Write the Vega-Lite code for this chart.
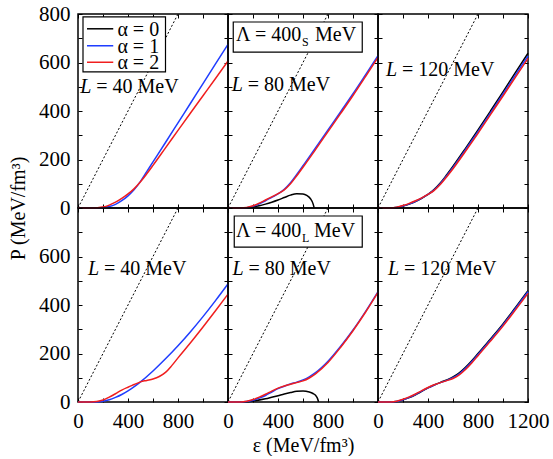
{
"$schema": "https://vega.github.io/schema/vega-lite/v6.json",
"padding": {"left": 7, "top": 2, "right": 0, "bottom": 0},
"background": "white",
"config": {
  "font": "Liberation Serif",
  "view": {"stroke": "black", "strokeWidth": 1.5},
  "axis": {"labelFont": "Liberation Serif", "labelFontSize": 21, "labelColor": "black", "titleFont": "Liberation Serif", "titleFontSize": 20, "titleFontWeight": "normal", "titleColor": "black", "tickColor": "black", "tickSize": -4, "tickWidth": 1, "domain": false, "grid": false, "labelPadding": 12, "labelOverlap": false, "labelFlush": false, "title": null, "format": "d"},
  "text": {"font": "Liberation Serif", "fontSize": 20, "color": "black", "align": "left", "baseline": "alphabetic"}
},
"datasets": {
  "causal": [{"e": 0, "p": 0}, {"e": 800, "p": 800}],
  "curves": [
{"panel":"a","alpha":"α = 1","e":0,"p":0},{"panel":"a","alpha":"α = 1","e":100,"p":0},{"panel":"a","alpha":"α = 1","e":150,"p":0.5},{"panel":"a","alpha":"α = 1","e":200,"p":2},{"panel":"a","alpha":"α = 1","e":250,"p":6},{"panel":"a","alpha":"α = 1","e":300,"p":15},{"panel":"a","alpha":"α = 1","e":350,"p":30},{"panel":"a","alpha":"α = 1","e":400,"p":50},{"panel":"a","alpha":"α = 1","e":450,"p":76},{"panel":"a","alpha":"α = 1","e":500,"p":110},{"panel":"a","alpha":"α = 1","e":550,"p":150},{"panel":"a","alpha":"α = 1","e":600,"p":190},{"panel":"a","alpha":"α = 1","e":700,"p":270},{"panel":"a","alpha":"α = 1","e":800,"p":351},{"panel":"a","alpha":"α = 1","e":900,"p":432},{"panel":"a","alpha":"α = 1","e":1000,"p":513},{"panel":"a","alpha":"α = 1","e":1100,"p":594},{"panel":"a","alpha":"α = 1","e":1200,"p":675},
{"panel":"a","alpha":"α = 2","e":0,"p":0},{"panel":"a","alpha":"α = 2","e":100,"p":0},{"panel":"a","alpha":"α = 2","e":150,"p":1},{"panel":"a","alpha":"α = 2","e":200,"p":4},{"panel":"a","alpha":"α = 2","e":250,"p":12},{"panel":"a","alpha":"α = 2","e":300,"p":24},{"panel":"a","alpha":"α = 2","e":350,"p":40},{"panel":"a","alpha":"α = 2","e":400,"p":58},{"panel":"a","alpha":"α = 2","e":450,"p":80},{"panel":"a","alpha":"α = 2","e":500,"p":108},{"panel":"a","alpha":"α = 2","e":550,"p":141},{"panel":"a","alpha":"α = 2","e":600,"p":176},{"panel":"a","alpha":"α = 2","e":700,"p":248},{"panel":"a","alpha":"α = 2","e":800,"p":320},{"panel":"a","alpha":"α = 2","e":900,"p":392},{"panel":"a","alpha":"α = 2","e":1000,"p":463},{"panel":"a","alpha":"α = 2","e":1100,"p":534},{"panel":"a","alpha":"α = 2","e":1200,"p":606},
{"panel":"b","alpha":"α = 0","e":0,"p":0},{"panel":"b","alpha":"α = 0","e":100,"p":0},{"panel":"b","alpha":"α = 0","e":150,"p":1},{"panel":"b","alpha":"α = 0","e":200,"p":4},{"panel":"b","alpha":"α = 0","e":250,"p":9},{"panel":"b","alpha":"α = 0","e":300,"p":16},{"panel":"b","alpha":"α = 0","e":350,"p":24},{"panel":"b","alpha":"α = 0","e":400,"p":33},{"panel":"b","alpha":"α = 0","e":450,"p":43},{"panel":"b","alpha":"α = 0","e":500,"p":53},{"panel":"b","alpha":"α = 0","e":550,"p":59},{"panel":"b","alpha":"α = 0","e":600,"p":58},{"panel":"b","alpha":"α = 0","e":630,"p":52},{"panel":"b","alpha":"α = 0","e":660,"p":38},{"panel":"b","alpha":"α = 0","e":680,"p":18},{"panel":"b","alpha":"α = 0","e":690,"p":0},
{"panel":"b","alpha":"α = 1","e":0,"p":0},{"panel":"b","alpha":"α = 1","e":100,"p":0},{"panel":"b","alpha":"α = 1","e":150,"p":1},{"panel":"b","alpha":"α = 1","e":200,"p":7},{"panel":"b","alpha":"α = 1","e":250,"p":17},{"panel":"b","alpha":"α = 1","e":300,"p":30},{"panel":"b","alpha":"α = 1","e":350,"p":44},{"panel":"b","alpha":"α = 1","e":400,"p":58},{"panel":"b","alpha":"α = 1","e":450,"p":77},{"panel":"b","alpha":"α = 1","e":500,"p":104},{"panel":"b","alpha":"α = 1","e":550,"p":138},{"panel":"b","alpha":"α = 1","e":600,"p":174},{"panel":"b","alpha":"α = 1","e":700,"p":248},{"panel":"b","alpha":"α = 1","e":800,"p":322},{"panel":"b","alpha":"α = 1","e":900,"p":396},{"panel":"b","alpha":"α = 1","e":1000,"p":471},{"panel":"b","alpha":"α = 1","e":1100,"p":549},{"panel":"b","alpha":"α = 1","e":1200,"p":628},
{"panel":"b","alpha":"α = 2","e":0,"p":0},{"panel":"b","alpha":"α = 2","e":100,"p":0},{"panel":"b","alpha":"α = 2","e":150,"p":2},{"panel":"b","alpha":"α = 2","e":200,"p":9},{"panel":"b","alpha":"α = 2","e":250,"p":20},{"panel":"b","alpha":"α = 2","e":300,"p":33},{"panel":"b","alpha":"α = 2","e":350,"p":46},{"panel":"b","alpha":"α = 2","e":400,"p":59},{"panel":"b","alpha":"α = 2","e":450,"p":75},{"panel":"b","alpha":"α = 2","e":500,"p":100},{"panel":"b","alpha":"α = 2","e":550,"p":133},{"panel":"b","alpha":"α = 2","e":600,"p":168},{"panel":"b","alpha":"α = 2","e":700,"p":241},{"panel":"b","alpha":"α = 2","e":800,"p":315},{"panel":"b","alpha":"α = 2","e":900,"p":389},{"panel":"b","alpha":"α = 2","e":1000,"p":464},{"panel":"b","alpha":"α = 2","e":1100,"p":542},{"panel":"b","alpha":"α = 2","e":1200,"p":621},
{"panel":"c","alpha":"α = 0","e":0,"p":0},{"panel":"c","alpha":"α = 0","e":100,"p":0},{"panel":"c","alpha":"α = 0","e":150,"p":2},{"panel":"c","alpha":"α = 0","e":200,"p":8},{"panel":"c","alpha":"α = 0","e":250,"p":16},{"panel":"c","alpha":"α = 0","e":300,"p":27},{"panel":"c","alpha":"α = 0","e":350,"p":40},{"panel":"c","alpha":"α = 0","e":400,"p":56},{"panel":"c","alpha":"α = 0","e":450,"p":77},{"panel":"c","alpha":"α = 0","e":500,"p":104},{"panel":"c","alpha":"α = 0","e":550,"p":137},{"panel":"c","alpha":"α = 0","e":600,"p":172},{"panel":"c","alpha":"α = 0","e":700,"p":246},{"panel":"c","alpha":"α = 0","e":800,"p":322},{"panel":"c","alpha":"α = 0","e":900,"p":400},{"panel":"c","alpha":"α = 0","e":1000,"p":479},{"panel":"c","alpha":"α = 0","e":1100,"p":559},{"panel":"c","alpha":"α = 0","e":1200,"p":638},
{"panel":"c","alpha":"α = 1","e":0,"p":0},{"panel":"c","alpha":"α = 1","e":100,"p":0},{"panel":"c","alpha":"α = 1","e":150,"p":2},{"panel":"c","alpha":"α = 1","e":200,"p":8},{"panel":"c","alpha":"α = 1","e":250,"p":17},{"panel":"c","alpha":"α = 1","e":300,"p":28},{"panel":"c","alpha":"α = 1","e":350,"p":41},{"panel":"c","alpha":"α = 1","e":400,"p":56},{"panel":"c","alpha":"α = 1","e":450,"p":75},{"panel":"c","alpha":"α = 1","e":500,"p":101},{"panel":"c","alpha":"α = 1","e":550,"p":133},{"panel":"c","alpha":"α = 1","e":600,"p":167},{"panel":"c","alpha":"α = 1","e":700,"p":240},{"panel":"c","alpha":"α = 1","e":800,"p":315},{"panel":"c","alpha":"α = 1","e":900,"p":392},{"panel":"c","alpha":"α = 1","e":1000,"p":470},{"panel":"c","alpha":"α = 1","e":1100,"p":549},{"panel":"c","alpha":"α = 1","e":1200,"p":627},
{"panel":"c","alpha":"α = 2","e":0,"p":0},{"panel":"c","alpha":"α = 2","e":100,"p":0},{"panel":"c","alpha":"α = 2","e":150,"p":3},{"panel":"c","alpha":"α = 2","e":200,"p":10},{"panel":"c","alpha":"α = 2","e":250,"p":19},{"panel":"c","alpha":"α = 2","e":300,"p":30},{"panel":"c","alpha":"α = 2","e":350,"p":42},{"panel":"c","alpha":"α = 2","e":400,"p":56},{"panel":"c","alpha":"α = 2","e":450,"p":73},{"panel":"c","alpha":"α = 2","e":500,"p":98},{"panel":"c","alpha":"α = 2","e":550,"p":129},{"panel":"c","alpha":"α = 2","e":600,"p":162},{"panel":"c","alpha":"α = 2","e":700,"p":234},{"panel":"c","alpha":"α = 2","e":800,"p":308},{"panel":"c","alpha":"α = 2","e":900,"p":385},{"panel":"c","alpha":"α = 2","e":1000,"p":462},{"panel":"c","alpha":"α = 2","e":1100,"p":540},{"panel":"c","alpha":"α = 2","e":1200,"p":617},
{"panel":"d","alpha":"α = 1","e":0,"p":0},{"panel":"d","alpha":"α = 1","e":100,"p":0},{"panel":"d","alpha":"α = 1","e":150,"p":0.5},{"panel":"d","alpha":"α = 1","e":200,"p":3},{"panel":"d","alpha":"α = 1","e":250,"p":9},{"panel":"d","alpha":"α = 1","e":300,"p":19},{"panel":"d","alpha":"α = 1","e":350,"p":31},{"panel":"d","alpha":"α = 1","e":400,"p":46},{"panel":"d","alpha":"α = 1","e":450,"p":63},{"panel":"d","alpha":"α = 1","e":500,"p":83},{"panel":"d","alpha":"α = 1","e":600,"p":128},{"panel":"d","alpha":"α = 1","e":700,"p":178},{"panel":"d","alpha":"α = 1","e":800,"p":232},{"panel":"d","alpha":"α = 1","e":900,"p":290},{"panel":"d","alpha":"α = 1","e":1000,"p":352},{"panel":"d","alpha":"α = 1","e":1100,"p":418},{"panel":"d","alpha":"α = 1","e":1200,"p":487},
{"panel":"d","alpha":"α = 2","e":0,"p":0},{"panel":"d","alpha":"α = 2","e":100,"p":0},{"panel":"d","alpha":"α = 2","e":150,"p":2},{"panel":"d","alpha":"α = 2","e":200,"p":8},{"panel":"d","alpha":"α = 2","e":250,"p":20},{"panel":"d","alpha":"α = 2","e":300,"p":34},{"panel":"d","alpha":"α = 2","e":350,"p":49},{"panel":"d","alpha":"α = 2","e":400,"p":61},{"panel":"d","alpha":"α = 2","e":450,"p":72},{"panel":"d","alpha":"α = 2","e":500,"p":83},{"panel":"d","alpha":"α = 2","e":550,"p":89},{"panel":"d","alpha":"α = 2","e":600,"p":95},{"panel":"d","alpha":"α = 2","e":650,"p":105},{"panel":"d","alpha":"α = 2","e":700,"p":122},{"panel":"d","alpha":"α = 2","e":750,"p":150},{"panel":"d","alpha":"α = 2","e":800,"p":182},{"panel":"d","alpha":"α = 2","e":900,"p":244},{"panel":"d","alpha":"α = 2","e":1000,"p":309},{"panel":"d","alpha":"α = 2","e":1100,"p":376},{"panel":"d","alpha":"α = 2","e":1200,"p":445},
{"panel":"e","alpha":"α = 0","e":0,"p":0},{"panel":"e","alpha":"α = 0","e":100,"p":0},{"panel":"e","alpha":"α = 0","e":150,"p":1},{"panel":"e","alpha":"α = 0","e":200,"p":4},{"panel":"e","alpha":"α = 0","e":300,"p":13},{"panel":"e","alpha":"α = 0","e":400,"p":26},{"panel":"e","alpha":"α = 0","e":450,"p":33},{"panel":"e","alpha":"α = 0","e":500,"p":39},{"panel":"e","alpha":"α = 0","e":550,"p":44},{"panel":"e","alpha":"α = 0","e":600,"p":45},{"panel":"e","alpha":"α = 0","e":650,"p":41},{"panel":"e","alpha":"α = 0","e":680,"p":35},{"panel":"e","alpha":"α = 0","e":700,"p":28},{"panel":"e","alpha":"α = 0","e":715,"p":16},{"panel":"e","alpha":"α = 0","e":725,"p":0},
{"panel":"e","alpha":"α = 1","e":0,"p":0},{"panel":"e","alpha":"α = 1","e":100,"p":0},{"panel":"e","alpha":"α = 1","e":150,"p":2},{"panel":"e","alpha":"α = 1","e":200,"p":7},{"panel":"e","alpha":"α = 1","e":250,"p":16},{"panel":"e","alpha":"α = 1","e":300,"p":27},{"panel":"e","alpha":"α = 1","e":350,"p":41},{"panel":"e","alpha":"α = 1","e":400,"p":55},{"panel":"e","alpha":"α = 1","e":450,"p":65},{"panel":"e","alpha":"α = 1","e":500,"p":74},{"panel":"e","alpha":"α = 1","e":550,"p":82},{"panel":"e","alpha":"α = 1","e":600,"p":91},{"panel":"e","alpha":"α = 1","e":650,"p":104},{"panel":"e","alpha":"α = 1","e":700,"p":121},{"panel":"e","alpha":"α = 1","e":800,"p":168},{"panel":"e","alpha":"α = 1","e":900,"p":229},{"panel":"e","alpha":"α = 1","e":1000,"p":297},{"panel":"e","alpha":"α = 1","e":1100,"p":373},{"panel":"e","alpha":"α = 1","e":1200,"p":455},
{"panel":"e","alpha":"α = 2","e":0,"p":0},{"panel":"e","alpha":"α = 2","e":100,"p":0},{"panel":"e","alpha":"α = 2","e":150,"p":3},{"panel":"e","alpha":"α = 2","e":200,"p":10},{"panel":"e","alpha":"α = 2","e":250,"p":20},{"panel":"e","alpha":"α = 2","e":300,"p":32},{"panel":"e","alpha":"α = 2","e":350,"p":45},{"panel":"e","alpha":"α = 2","e":400,"p":57},{"panel":"e","alpha":"α = 2","e":450,"p":66},{"panel":"e","alpha":"α = 2","e":500,"p":73},{"panel":"e","alpha":"α = 2","e":550,"p":80},{"panel":"e","alpha":"α = 2","e":600,"p":87},{"panel":"e","alpha":"α = 2","e":650,"p":99},{"panel":"e","alpha":"α = 2","e":700,"p":116},{"panel":"e","alpha":"α = 2","e":800,"p":163},{"panel":"e","alpha":"α = 2","e":900,"p":225},{"panel":"e","alpha":"α = 2","e":1000,"p":294},{"panel":"e","alpha":"α = 2","e":1100,"p":370},{"panel":"e","alpha":"α = 2","e":1200,"p":452},
{"panel":"f","alpha":"α = 0","e":0,"p":0},{"panel":"f","alpha":"α = 0","e":100,"p":0},{"panel":"f","alpha":"α = 0","e":150,"p":2},{"panel":"f","alpha":"α = 0","e":200,"p":9},{"panel":"f","alpha":"α = 0","e":250,"p":18},{"panel":"f","alpha":"α = 0","e":300,"p":30},{"panel":"f","alpha":"α = 0","e":350,"p":44},{"panel":"f","alpha":"α = 0","e":400,"p":58},{"panel":"f","alpha":"α = 0","e":450,"p":70},{"panel":"f","alpha":"α = 0","e":500,"p":81},{"panel":"f","alpha":"α = 0","e":550,"p":91},{"panel":"f","alpha":"α = 0","e":600,"p":103},{"panel":"f","alpha":"α = 0","e":650,"p":120},{"panel":"f","alpha":"α = 0","e":700,"p":143},{"panel":"f","alpha":"α = 0","e":750,"p":170},{"panel":"f","alpha":"α = 0","e":800,"p":200},{"panel":"f","alpha":"α = 0","e":900,"p":260},{"panel":"f","alpha":"α = 0","e":1000,"p":322},{"panel":"f","alpha":"α = 0","e":1100,"p":390},{"panel":"f","alpha":"α = 0","e":1200,"p":459},
{"panel":"f","alpha":"α = 1","e":0,"p":0},{"panel":"f","alpha":"α = 1","e":100,"p":0},{"panel":"f","alpha":"α = 1","e":150,"p":2},{"panel":"f","alpha":"α = 1","e":200,"p":9},{"panel":"f","alpha":"α = 1","e":250,"p":19},{"panel":"f","alpha":"α = 1","e":300,"p":31},{"panel":"f","alpha":"α = 1","e":350,"p":45},{"panel":"f","alpha":"α = 1","e":400,"p":58},{"panel":"f","alpha":"α = 1","e":450,"p":70},{"panel":"f","alpha":"α = 1","e":500,"p":80},{"panel":"f","alpha":"α = 1","e":550,"p":89},{"panel":"f","alpha":"α = 1","e":600,"p":100},{"panel":"f","alpha":"α = 1","e":650,"p":116},{"panel":"f","alpha":"α = 1","e":700,"p":139},{"panel":"f","alpha":"α = 1","e":750,"p":166},{"panel":"f","alpha":"α = 1","e":800,"p":196},{"panel":"f","alpha":"α = 1","e":900,"p":256},{"panel":"f","alpha":"α = 1","e":1000,"p":318},{"panel":"f","alpha":"α = 1","e":1100,"p":386},{"panel":"f","alpha":"α = 1","e":1200,"p":455},
{"panel":"f","alpha":"α = 2","e":0,"p":0},{"panel":"f","alpha":"α = 2","e":100,"p":0},{"panel":"f","alpha":"α = 2","e":150,"p":3},{"panel":"f","alpha":"α = 2","e":200,"p":11},{"panel":"f","alpha":"α = 2","e":250,"p":21},{"panel":"f","alpha":"α = 2","e":300,"p":33},{"panel":"f","alpha":"α = 2","e":350,"p":47},{"panel":"f","alpha":"α = 2","e":400,"p":60},{"panel":"f","alpha":"α = 2","e":450,"p":71},{"panel":"f","alpha":"α = 2","e":500,"p":80},{"panel":"f","alpha":"α = 2","e":550,"p":88},{"panel":"f","alpha":"α = 2","e":600,"p":97},{"panel":"f","alpha":"α = 2","e":650,"p":112},{"panel":"f","alpha":"α = 2","e":700,"p":134},{"panel":"f","alpha":"α = 2","e":750,"p":161},{"panel":"f","alpha":"α = 2","e":800,"p":191},{"panel":"f","alpha":"α = 2","e":900,"p":251},{"panel":"f","alpha":"α = 2","e":1000,"p":313},{"panel":"f","alpha":"α = 2","e":1100,"p":380},{"panel":"f","alpha":"α = 2","e":1200,"p":448}
  ]
},
"columns": 3,
"spacing": 0,
"bounds": "flush",
"concat": [
  {"width": 150, "height": 194, "resolve": {"axis": {"x": "independent", "y": "independent"}},
   "layer": [
    {"data": {"name": "causal"}, "mark": {"type": "line", "color": "black", "strokeWidth": 1, "strokeDash": [2, 2]},
     "encoding": {"x": {"field": "e", "type": "quantitative", "scale": {"domain": [0, 1200], "nice": false}, "axis": {"orient": "bottom", "values": [0,200,400,600,800,1000,1200], "labels": false}},
                  "y": {"field": "p", "type": "quantitative", "scale": {"domain": [0, 800], "nice": false}, "axis": {"orient": "left", "values": [0,100,200,300,400,500,600,700,800], "labelExpr": "datum.value % 200 === 0 ? datum.label : ''", "title": "P (MeV/fm³)", "titleY": 194, "titleX": -50, "titleAlign": "center", "titleAngle": 270, "titleBaseline": "bottom"}}}},
    {"data": {"name": "curves"}, "transform": [{"filter": "datum.panel === 'a'"}], "mark": {"type": "line", "strokeWidth": 1.5, "interpolate": "monotone"},
     "encoding": {"x": {"field": "e", "type": "quantitative", "axis": {"orient": "top", "values": [0,200,400,600,800,1000,1200], "labels": false}},
                  "y": {"field": "p", "type": "quantitative", "axis": {"orient": "right", "values": [0,100,200,300,400,500,600,700,800], "labels": false}},
                  "color": {"field": "alpha", "type": "nominal", "scale": {"domain": ["α = 0", "α = 1", "α = 2"], "range": ["#000000", "#1f3dff", "#f01e1e"]}, "legend": null}}},
    {"data": {"values": [{}]}, "mark": {"type": "rect", "fill": "white", "stroke": "black", "strokeWidth": 1.2},
     "encoding": {"x": {"datum": 40, "type": "quantitative", "axis": null}, "x2": {"datum": 700}, "y": {"datum": 788, "type": "quantitative", "axis": null}, "y2": {"datum": 561}}},
    {"data": {"values": [{"alpha": "α = 0"}]}, "mark": {"type": "rule", "strokeWidth": 1.5},
     "encoding": {"x": {"datum": 72, "type": "quantitative", "axis": null}, "x2": {"datum": 282}, "y": {"datum": 739, "type": "quantitative", "axis": null}, "color": {"field": "alpha", "type": "nominal", "legend": null}}},
    {"data": {"values": [{"alpha": "α = 1"}]}, "mark": {"type": "rule", "strokeWidth": 1.5},
     "encoding": {"x": {"datum": 72, "type": "quantitative", "axis": null}, "x2": {"datum": 282}, "y": {"datum": 669, "type": "quantitative", "axis": null}, "color": {"field": "alpha", "type": "nominal", "legend": null}}},
    {"data": {"values": [{"alpha": "α = 2"}]}, "mark": {"type": "rule", "strokeWidth": 1.5},
     "encoding": {"x": {"datum": 72, "type": "quantitative", "axis": null}, "x2": {"datum": 282}, "y": {"datum": 601, "type": "quantitative", "axis": null}, "color": {"field": "alpha", "type": "nominal", "legend": null}}},
    {"data": {"values": [{"alpha": "α = 0"}]}, "mark": {"type": "text", "baseline": "middle", "dy": 1},
     "encoding": {"x": {"datum": 315, "type": "quantitative", "axis": null}, "y": {"datum": 739, "type": "quantitative", "axis": null}, "text": {"field": "alpha"}}},
    {"data": {"values": [{"alpha": "α = 1"}]}, "mark": {"type": "text", "baseline": "middle", "dy": 1},
     "encoding": {"x": {"datum": 315, "type": "quantitative", "axis": null}, "y": {"datum": 669, "type": "quantitative", "axis": null}, "text": {"field": "alpha"}}},
    {"data": {"values": [{"alpha": "α = 2"}]}, "mark": {"type": "text", "baseline": "middle", "dy": 1},
     "encoding": {"x": {"datum": 315, "type": "quantitative", "axis": null}, "y": {"datum": 601, "type": "quantitative", "axis": null}, "text": {"field": "alpha"}}},
    {"data": {"values": [{"t": "L"}]}, "mark": {"type": "text", "fontStyle": "italic"},
     "encoding": {"x": {"datum": 18, "type": "quantitative", "axis": null}, "y": {"datum": 476, "type": "quantitative", "axis": null}, "text": {"field": "t"}}},
    {"data": {"values": [{"t": "= 40 MeV"}]}, "mark": {"type": "text", "dx": 16},
     "encoding": {"x": {"datum": 18, "type": "quantitative", "axis": null}, "y": {"datum": 476, "type": "quantitative", "axis": null}, "text": {"field": "t"}}}
   ]},
  {"width": 150, "height": 194, "resolve": {"axis": {"x": "independent", "y": "independent"}},
   "layer": [
    {"data": {"name": "causal"}, "mark": {"type": "line", "color": "black", "strokeWidth": 1, "strokeDash": [2, 2]},
     "encoding": {"x": {"field": "e", "type": "quantitative", "scale": {"domain": [0, 1200], "nice": false}, "axis": {"orient": "bottom", "values": [0,200,400,600,800,1000,1200], "labels": false}},
                  "y": {"field": "p", "type": "quantitative", "scale": {"domain": [0, 800], "nice": false}, "axis": {"orient": "left", "values": [0,100,200,300,400,500,600,700,800], "labels": false}}}},
    {"data": {"name": "curves"}, "transform": [{"filter": "datum.panel === 'b'"}], "mark": {"type": "line", "strokeWidth": 1.5, "interpolate": "monotone"},
     "encoding": {"x": {"field": "e", "type": "quantitative", "axis": {"orient": "top", "values": [0,200,400,600,800,1000,1200], "labels": false}},
                  "y": {"field": "p", "type": "quantitative", "axis": {"orient": "right", "values": [0,100,200,300,400,500,600,700,800], "labels": false}},
                  "color": {"field": "alpha", "type": "nominal", "legend": null}}},
    {"data": {"values": [{}]}, "mark": {"type": "rect", "fill": "white", "stroke": "black", "strokeWidth": 1.2},
     "encoding": {"x": {"datum": 42, "type": "quantitative", "axis": null}, "x2": {"datum": 1074}, "y": {"datum": 767, "type": "quantitative", "axis": null}, "y2": {"datum": 643}}},
    {"data": {"values": [{"t": "Λ = 400"}]}, "mark": {"type": "text"},
     "encoding": {"x": {"datum": 64, "type": "quantitative", "axis": null}, "y": {"datum": 689, "type": "quantitative", "axis": null}, "text": {"field": "t"}}},
    {"data": {"values": [{"t": "S"}]}, "mark": {"type": "text", "fontSize": 12, "dx": 66},
     "encoding": {"x": {"datum": 64, "type": "quantitative", "axis": null}, "y": {"datum": 668, "type": "quantitative", "axis": null}, "text": {"field": "t"}}},
    {"data": {"values": [{"t": "MeV"}]}, "mark": {"type": "text", "dx": 79},
     "encoding": {"x": {"datum": 64, "type": "quantitative", "axis": null}, "y": {"datum": 689, "type": "quantitative", "axis": null}, "text": {"field": "t"}}},
    {"data": {"values": [{"t": "L"}]}, "mark": {"type": "text", "fontStyle": "italic"},
     "encoding": {"x": {"datum": 30, "type": "quantitative", "axis": null}, "y": {"datum": 482, "type": "quantitative", "axis": null}, "text": {"field": "t"}}},
    {"data": {"values": [{"t": "= 80 MeV"}]}, "mark": {"type": "text", "dx": 16},
     "encoding": {"x": {"datum": 30, "type": "quantitative", "axis": null}, "y": {"datum": 482, "type": "quantitative", "axis": null}, "text": {"field": "t"}}}
   ]},
  {"width": 150, "height": 194, "resolve": {"axis": {"x": "independent", "y": "independent"}},
   "layer": [
    {"data": {"name": "causal"}, "mark": {"type": "line", "color": "black", "strokeWidth": 1, "strokeDash": [2, 2]},
     "encoding": {"x": {"field": "e", "type": "quantitative", "scale": {"domain": [0, 1200], "nice": false}, "axis": {"orient": "bottom", "values": [0,200,400,600,800,1000,1200], "labels": false}},
                  "y": {"field": "p", "type": "quantitative", "scale": {"domain": [0, 800], "nice": false}, "axis": {"orient": "left", "values": [0,100,200,300,400,500,600,700,800], "labels": false}}}},
    {"data": {"name": "curves"}, "transform": [{"filter": "datum.panel === 'c'"}], "mark": {"type": "line", "strokeWidth": 1.5, "interpolate": "monotone"},
     "encoding": {"x": {"field": "e", "type": "quantitative", "axis": {"orient": "top", "values": [0,200,400,600,800,1000,1200], "labels": false}},
                  "y": {"field": "p", "type": "quantitative", "axis": {"orient": "right", "values": [0,100,200,300,400,500,600,700,800], "labels": false}},
                  "color": {"field": "alpha", "type": "nominal", "legend": null}}},
    {"data": {"values": [{"t": "L"}]}, "mark": {"type": "text", "fontStyle": "italic"},
     "encoding": {"x": {"datum": 64, "type": "quantitative", "axis": null}, "y": {"datum": 546, "type": "quantitative", "axis": null}, "text": {"field": "t"}}},
    {"data": {"values": [{"t": "= 120 MeV"}]}, "mark": {"type": "text", "dx": 16},
     "encoding": {"x": {"datum": 64, "type": "quantitative", "axis": null}, "y": {"datum": 546, "type": "quantitative", "axis": null}, "text": {"field": "t"}}}
   ]},
  {"width": 150, "height": 194, "resolve": {"axis": {"x": "independent", "y": "independent"}},
   "layer": [
    {"data": {"name": "causal"}, "mark": {"type": "line", "color": "black", "strokeWidth": 1, "strokeDash": [2, 2]},
     "encoding": {"x": {"field": "e", "type": "quantitative", "scale": {"domain": [0, 1200], "nice": false}, "axis": {"orient": "bottom", "values": [0,200,400,600,800,1000,1200], "labelExpr": "datum.value % 400 === 0 && datum.value < 1200 ? datum.label : ''"}},
                  "y": {"field": "p", "type": "quantitative", "scale": {"domain": [0, 800], "nice": false}, "axis": {"orient": "left", "values": [0,100,200,300,400,500,600,700,800], "labelExpr": "datum.value % 200 === 0 && datum.value < 800 ? datum.label : ''"}}}},
    {"data": {"name": "curves"}, "transform": [{"filter": "datum.panel === 'd'"}], "mark": {"type": "line", "strokeWidth": 1.5, "interpolate": "monotone"},
     "encoding": {"x": {"field": "e", "type": "quantitative", "axis": {"orient": "top", "values": [0,200,400,600,800,1000,1200], "labels": false}},
                  "y": {"field": "p", "type": "quantitative", "axis": {"orient": "right", "values": [0,100,200,300,400,500,600,700,800], "labels": false}},
                  "color": {"field": "alpha", "type": "nominal", "legend": null}}},
    {"data": {"values": [{"t": "L"}]}, "mark": {"type": "text", "fontStyle": "italic"},
     "encoding": {"x": {"datum": 80, "type": "quantitative", "axis": null}, "y": {"datum": 522, "type": "quantitative", "axis": null}, "text": {"field": "t"}}},
    {"data": {"values": [{"t": "= 40 MeV"}]}, "mark": {"type": "text", "dx": 16},
     "encoding": {"x": {"datum": 80, "type": "quantitative", "axis": null}, "y": {"datum": 522, "type": "quantitative", "axis": null}, "text": {"field": "t"}}}
   ]},
  {"width": 150, "height": 194, "resolve": {"axis": {"x": "independent", "y": "independent"}},
   "layer": [
    {"data": {"name": "causal"}, "mark": {"type": "line", "color": "black", "strokeWidth": 1, "strokeDash": [2, 2]},
     "encoding": {"x": {"field": "e", "type": "quantitative", "scale": {"domain": [0, 1200], "nice": false}, "axis": {"orient": "bottom", "values": [0,200,400,600,800,1000,1200], "labelExpr": "datum.value % 400 === 0 && datum.value < 1200 ? datum.label : ''", "title": "ε (MeV/fm³)"}},
                  "y": {"field": "p", "type": "quantitative", "scale": {"domain": [0, 800], "nice": false}, "axis": {"orient": "left", "values": [0,100,200,300,400,500,600,700,800], "labels": false}}}},
    {"data": {"name": "curves"}, "transform": [{"filter": "datum.panel === 'e'"}], "mark": {"type": "line", "strokeWidth": 1.5, "interpolate": "monotone"},
     "encoding": {"x": {"field": "e", "type": "quantitative", "axis": {"orient": "top", "values": [0,200,400,600,800,1000,1200], "labels": false}},
                  "y": {"field": "p", "type": "quantitative", "axis": {"orient": "right", "values": [0,100,200,300,400,500,600,700,800], "labels": false}},
                  "color": {"field": "alpha", "type": "nominal", "legend": null}}},
    {"data": {"values": [{}]}, "mark": {"type": "rect", "fill": "white", "stroke": "black", "strokeWidth": 1.2},
     "encoding": {"x": {"datum": 50, "type": "quantitative", "axis": null}, "x2": {"datum": 1074}, "y": {"datum": 767, "type": "quantitative", "axis": null}, "y2": {"datum": 639}}},
    {"data": {"values": [{"t": "Λ = 400"}]}, "mark": {"type": "text"},
     "encoding": {"x": {"datum": 64, "type": "quantitative", "axis": null}, "y": {"datum": 680, "type": "quantitative", "axis": null}, "text": {"field": "t"}}},
    {"data": {"values": [{"t": "L"}]}, "mark": {"type": "text", "fontSize": 12, "dx": 66},
     "encoding": {"x": {"datum": 64, "type": "quantitative", "axis": null}, "y": {"datum": 660, "type": "quantitative", "axis": null}, "text": {"field": "t"}}},
    {"data": {"values": [{"t": "MeV"}]}, "mark": {"type": "text", "dx": 78},
     "encoding": {"x": {"datum": 64, "type": "quantitative", "axis": null}, "y": {"datum": 680, "type": "quantitative", "axis": null}, "text": {"field": "t"}}},
    {"data": {"values": [{"t": "L"}]}, "mark": {"type": "text", "fontStyle": "italic"},
     "encoding": {"x": {"datum": 36, "type": "quantitative", "axis": null}, "y": {"datum": 522, "type": "quantitative", "axis": null}, "text": {"field": "t"}}},
    {"data": {"values": [{"t": "= 80 MeV"}]}, "mark": {"type": "text", "dx": 16},
     "encoding": {"x": {"datum": 36, "type": "quantitative", "axis": null}, "y": {"datum": 522, "type": "quantitative", "axis": null}, "text": {"field": "t"}}}
   ]},
  {"width": 150, "height": 194, "resolve": {"axis": {"x": "independent", "y": "independent"}},
   "layer": [
    {"data": {"name": "causal"}, "mark": {"type": "line", "color": "black", "strokeWidth": 1, "strokeDash": [2, 2]},
     "encoding": {"x": {"field": "e", "type": "quantitative", "scale": {"domain": [0, 1200], "nice": false}, "axis": {"orient": "bottom", "values": [0,200,400,600,800,1000,1200], "labelExpr": "datum.value % 400 === 0 ? datum.label : ''"}},
                  "y": {"field": "p", "type": "quantitative", "scale": {"domain": [0, 800], "nice": false}, "axis": {"orient": "left", "values": [0,100,200,300,400,500,600,700,800], "labels": false}}}},
    {"data": {"name": "curves"}, "transform": [{"filter": "datum.panel === 'f'"}], "mark": {"type": "line", "strokeWidth": 1.5, "interpolate": "monotone"},
     "encoding": {"x": {"field": "e", "type": "quantitative", "axis": {"orient": "top", "values": [0,200,400,600,800,1000,1200], "labels": false}},
                  "y": {"field": "p", "type": "quantitative", "axis": {"orient": "right", "values": [0,100,200,300,400,500,600,700,800], "labels": false}},
                  "color": {"field": "alpha", "type": "nominal", "legend": null}}},
    {"data": {"values": [{"t": "L"}]}, "mark": {"type": "text", "fontStyle": "italic"},
     "encoding": {"x": {"datum": 80, "type": "quantitative", "axis": null}, "y": {"datum": 522, "type": "quantitative", "axis": null}, "text": {"field": "t"}}},
    {"data": {"values": [{"t": "= 120 MeV"}]}, "mark": {"type": "text", "dx": 16},
     "encoding": {"x": {"datum": 80, "type": "quantitative", "axis": null}, "y": {"datum": 522, "type": "quantitative", "axis": null}, "text": {"field": "t"}}}
   ]}
]
}
